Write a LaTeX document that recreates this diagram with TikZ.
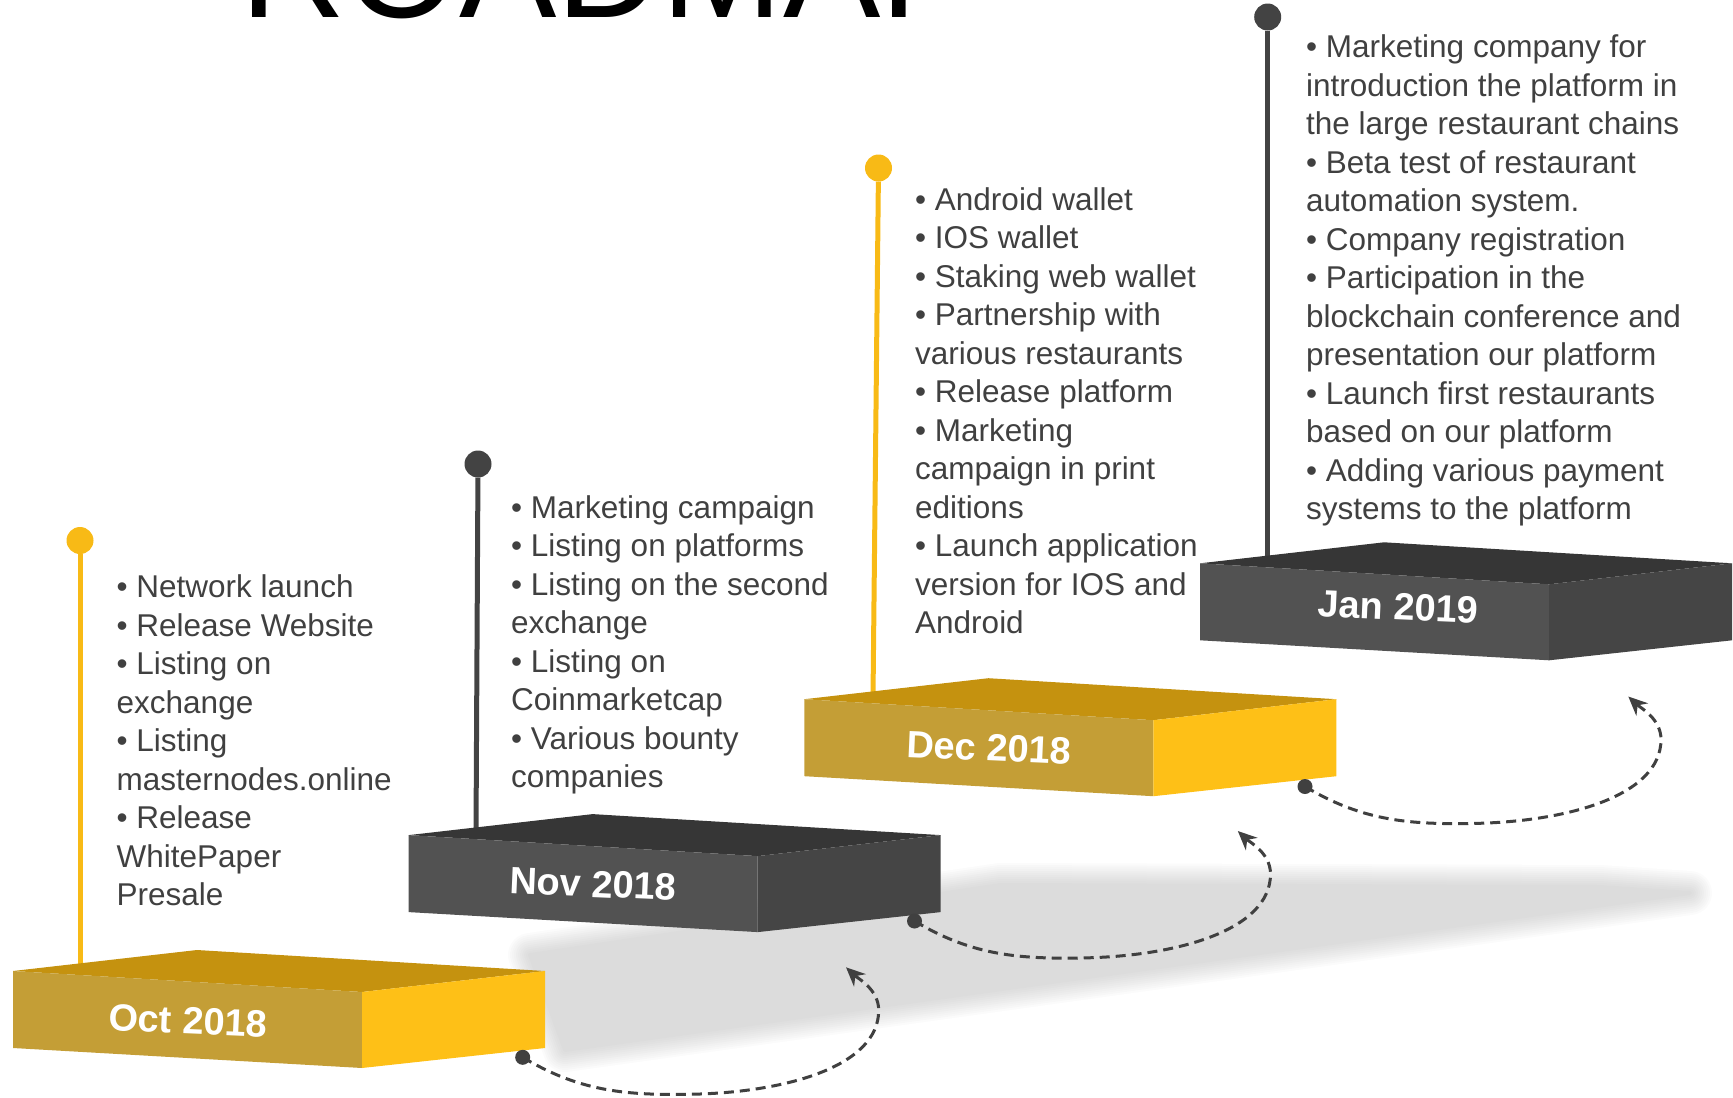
\documentclass[tikz,border=0pt]{standalone}
\usepackage{fontspec}
\setmainfont{Liberation Sans}
\usetikzlibrary{arrows.meta}

\definecolor{goldtop}{HTML}{C5920F}
\definecolor{goldfront}{HTML}{C49E36}
\definecolor{goldside}{HTML}{FEC017}
\definecolor{darktop}{HTML}{363636}
\definecolor{darkfront}{HTML}{525252}
\definecolor{darkside}{HTML}{454545}
\definecolor{poleyellow}{HTML}{F8BA16}
\definecolor{poledark}{HTML}{434343}
\definecolor{inkgray}{HTML}{404040}
\definecolor{shadowgray}{HTML}{9E9E9E}

\newcommand{\itemfont}{\fontsize{31.5}{38.5}\selectfont}
\newcommand{\datefont}{\fontsize{38}{40}\selectfont\bfseries}
\newcommand{\titlefont}{\fontsize{146}{150}\selectfont}

\newcommand{\stairblock}[5]{%
  \begin{scope}[shift={(#1,#2)}]
    \fill[#3] (0,0) -- (184,-21) -- (532,0) -- (349,21) -- cycle;
    \fill[#4] (0,0) -- (349,21) -- (349,97) -- (0,77) -- cycle;
    \fill[#5] (349,21) -- (532,0) -- (532,77) -- (349,97) -- cycle;
  \end{scope}}

\begin{document}
\begin{tikzpicture}[x=1pt, y=-1pt,
    pole/.style={line width=5pt},
    pin/.style={circle, inner sep=0pt, minimum size=27pt},
    items/.style={anchor=base west, align=left, inner sep=0pt, text=inkgray, font=\itemfont},
    datelabel/.style={text=white, font=\datefont, rotate=-2.5, inner sep=0pt},
    hop/.style={draw=inkgray, line width=3pt, dash pattern=on 10pt off 6pt, -{Stealth[length=19pt, width=17pt]}},
    hopdot/.style={circle, fill=inkgray, inner sep=0pt, minimum size=15pt}]

    \useasboundingbox (0,0) rectangle (1733,1098);
    \clip (0,0) rectangle (1733,1098);

    \node[anchor=base west, inner sep=0pt, font=\titlefont] (title) at (240,17) {ROADMAP};

    \foreach \w in {44,40,...,4} {
        \begin{scope}[transparency group, opacity=0.04]
            \filldraw[shadowgray, line width=\w pt, line join=round]
                (530,955) -- (1000,885) -- (1600,887) -- (1690,893) -- (565,1050) -- cycle;
        \end{scope}
    }

    \node[pin, fill=poleyellow] (oct-pin) at (80,540.5) {};
    \coordinate (oct-foot) at (80,968);
    \draw[pole, poleyellow] (oct-pin) -- (oct-foot);

    \node[pin, fill=poledark] (nov-pin) at (478,464) {};
    \coordinate (nov-foot) at (476,833);
    \draw[pole, poledark] (nov-pin) -- (nov-foot);

    \node[pin, fill=poleyellow] (dec-pin) at (878.5,168) {};
    \coordinate (dec-foot) at (873,697);
    \draw[pole, poleyellow] (dec-pin) -- (dec-foot);

    \node[pin, fill=poledark] (jan-pin) at (1267.7,17) {};
    \coordinate (jan-foot) at (1267.7,561);
    \draw[pole, poledark] (jan-pin) -- (jan-foot);

    \stairblock{13}{971}{goldtop}{goldfront}{goldside}
    \stairblock{408.7}{835.1}{darktop}{darkfront}{darkside}
    \stairblock{804.4}{699.2}{goldtop}{goldfront}{goldside}
    \stairblock{1200.1}{563.3}{darktop}{darkfront}{darkside}

    \node[datelabel] (oct-label) at (188,1021) {Oct 2018};
    \node[datelabel] (nov-label) at (593,884) {Nov 2018};
    \node[datelabel] (dec-label) at (989,748) {Dec 2018};
    \node[datelabel] (jan-label) at (1398,607) {Jan 2019};

    \foreach \name/\x/\y/\next in {oct/522.7/1057.3/nov, nov/914.5/921/dec, dec/1305/786.5/jan} {
        \node[hopdot] (\name-hop) at (\x,\y) {};
        \coordinate (\next-in) at (\x+323.3,\y-90);
        \draw[hop] (\name-hop.center) .. controls (\x+55,\y+33) and (\x+100,\y+38) .. (\x+164,\y+37)
            .. controls (\x+260,\y+36) and (\x+356,\y+10) .. (\x+356,\y-47)
            .. controls (\x+356,\y-68) and (\x+335,\y-79) .. (\next-in);
    }

    \node[items] (oct-items) at (116.5,905.5) {• Network launch\\• Release Website\\• Listing on\\exchange\\• Listing\\masternodes.online\\• Release\\WhitePaper\\Presale};
    \node[items] (nov-items) at (511,787.5) {• Marketing campaign\\• Listing on platforms\\• Listing on the second\\exchange\\• Listing on\\Coinmarketcap\\• Various bounty\\companies};
    \node[items] (dec-items) at (915,633.5) {• Android wallet\\• IOS wallet\\• Staking web wallet\\• Partnership with\\various restaurants\\• Release platform\\• Marketing\\campaign in print\\editions\\• Launch application\\version for IOS and\\Android};
    \node[items] (jan-items) at (1306,519.5) {• Marketing company for\\introduction the platform in\\the large restaurant chains\\• Beta test of restaurant\\automation system.\\• Company registration\\• Participation in the\\blockchain conference and\\presentation our platform\\• Launch first restaurants\\based on our platform\\• Adding various payment\\systems to the platform};
\end{tikzpicture}
\end{document}
